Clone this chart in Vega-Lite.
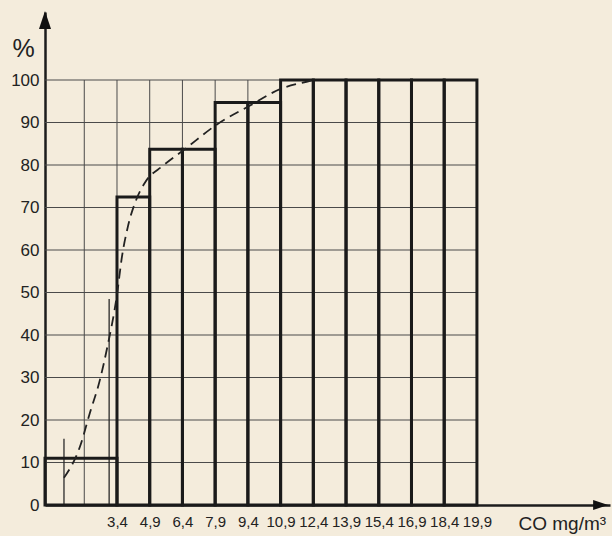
{
  "$schema": "https://vega.github.io/schema/vega-lite/v6.json",
  "width": 565,
  "height": 493,
  "autosize": {"type": "none"},
  "padding": {"left": 45, "top": 12, "right": 2, "bottom": 31},
  "background": "#f4ecdc",
  "config": {"view": {"stroke": null}, "font": "Liberation Sans"},
  "datasets": {
    "hgrid": [{"y": 10, "x0": 0.1, "x1": 19.9}, {"y": 20, "x0": 0.1, "x1": 19.9}, {"y": 30, "x0": 0.1, "x1": 19.9}, {"y": 40, "x0": 0.1, "x1": 19.9}, {"y": 50, "x0": 0.1, "x1": 19.9}, {"y": 60, "x0": 0.1, "x1": 19.9}, {"y": 70, "x0": 0.1, "x1": 19.9}, {"y": 80, "x0": 0.1, "x1": 19.9}, {"y": 90, "x0": 0.1, "x1": 19.9}, {"y": 100, "x0": 0.1, "x1": 19.9}],
    "vgrid": [{"x": 1.9, "y0": 0, "y1": 100}, {"x": 3.4, "y0": 0, "y1": 100}, {"x": 4.9, "y0": 0, "y1": 100}, {"x": 6.4, "y0": 0, "y1": 100}, {"x": 7.9, "y0": 0, "y1": 100}, {"x": 9.4, "y0": 0, "y1": 100}, {"x": 10.9, "y0": 0, "y1": 100}, {"x": 12.4, "y0": 0, "y1": 100}, {"x": 13.9, "y0": 0, "y1": 100}, {"x": 15.4, "y0": 0, "y1": 100}, {"x": 16.9, "y0": 0, "y1": 100}, {"x": 18.4, "y0": 0, "y1": 100}, {"x": 19.9, "y0": 0, "y1": 100}],
    "bars": [
      {"x": 0.1, "x2": 3.4, "b": 0, "v": 11},
      {"x": 3.4, "x2": 4.9, "b": 0, "v": 72.5},
      {"x": 4.9, "x2": 6.4, "b": 0, "v": 83.7},
      {"x": 6.4, "x2": 7.9, "b": 0, "v": 83.7},
      {"x": 7.9, "x2": 9.4, "b": 0, "v": 94.7},
      {"x": 9.4, "x2": 10.9, "b": 0, "v": 94.7},
      {"x": 10.9, "x2": 12.4, "b": 0, "v": 100},
      {"x": 12.4, "x2": 13.9, "b": 0, "v": 100},
      {"x": 13.9, "x2": 15.4, "b": 0, "v": 100},
      {"x": 15.4, "x2": 16.9, "b": 0, "v": 100},
      {"x": 16.9, "x2": 18.4, "b": 0, "v": 100},
      {"x": 18.4, "x2": 19.9, "b": 0, "v": 100}
    ],
    "marks": [{"x": 0.97, "y0": 0, "y1": 15.6}, {"x": 3.04, "y0": 0, "y1": 48.5}],
    "curve": [
      {"x": 0.97, "y": 6.4},
      {"x": 1.7, "y": 13.7},
      {"x": 2.16, "y": 21.7},
      {"x": 2.62, "y": 29.5},
      {"x": 2.95, "y": 37},
      {"x": 3.4, "y": 49.5},
      {"x": 3.63, "y": 58.5},
      {"x": 3.9, "y": 65.5},
      {"x": 4.32, "y": 72.3},
      {"x": 4.7, "y": 76},
      {"x": 5.5, "y": 79.8},
      {"x": 6.5, "y": 83.7},
      {"x": 8.0, "y": 89.6},
      {"x": 9.5, "y": 94},
      {"x": 10.9, "y": 97.9},
      {"x": 12.25, "y": 99.8},
      {"x": 12.4, "y": 100}
    ],
    "arrows": [
      {"x": 0.1, "y": 114.1, "dir": "up"},
      {"x": 25.57, "y": 0, "dir": "right"}
    ]
  },
  "layer": [
    {
      "data": {"name": "hgrid"},
      "mark": {"type": "rule", "color": "#4a4a4a", "strokeWidth": 1},
      "encoding": {
        "y": {"field": "y", "type": "quantitative", "scale": {"domain": [0, 116], "nice": false, "zero": false},
          "axis": {
            "values": [0, 10, 20, 30, 40, 50, 60, 70, 80, 90, 100],
            "grid": false, "ticks": false, "labelPadding": 6,
            "domainColor": "#1c1c1c", "domainWidth": 2.5,
            "labelFont": "Liberation Sans", "labelFontSize": 17, "labelColor": "#222",
            "title": "%", "titleAngle": 0, "titleX": -22, "titleY": 36, "titleAlign": "center", "titleBaseline": "middle",
            "titleFont": "Liberation Sans", "titleFontSize": 25, "titleFontWeight": "normal", "titleColor": "#222"
          }},
        "x": {"field": "x0", "type": "quantitative", "scale": {"domain": [0.1, 26], "nice": false, "zero": false},
          "axis": {
            "values": [3.4, 4.9, 6.4, 7.9, 9.4, 10.9, 12.4, 13.9, 15.4, 16.9, 18.4, 19.9],
            "labelExpr": "replace(format(datum.value, '.1f'), '.', ',')",
            "grid": false, "ticks": false, "labelPadding": 9, "labelOverlap": false,
            "domainColor": "#1c1c1c", "domainWidth": 2.5,
            "labelFont": "Liberation Sans", "labelFontSize": 15, "labelColor": "#222",
            "title": "CO mg/m³", "titleX": 473, "titleY": 18, "titleAlign": "left", "titleBaseline": "middle",
            "titleFont": "Liberation Sans", "titleFontSize": 19, "titleFontWeight": "normal", "titleColor": "#222"
          }},
        "x2": {"field": "x1"}
      }
    },
    {
      "data": {"name": "vgrid"},
      "mark": {"type": "rule", "color": "#4a4a4a", "strokeWidth": 1},
      "encoding": {
        "x": {"field": "x", "type": "quantitative"},
        "y": {"field": "y0", "type": "quantitative"},
        "y2": {"field": "y1"}
      }
    },
    {
      "data": {"name": "marks"},
      "mark": {"type": "rule", "color": "#2a2a2a", "strokeWidth": 1.3},
      "encoding": {
        "x": {"field": "x", "type": "quantitative"},
        "y": {"field": "y0", "type": "quantitative"},
        "y2": {"field": "y1"}
      }
    },
    {
      "data": {"name": "bars"},
      "mark": {"type": "rect", "fill": "transparent", "stroke": "#1a1a1a", "strokeWidth": 3, "strokeJoin": "miter"},
      "encoding": {
        "x": {"field": "x", "type": "quantitative"},
        "x2": {"field": "x2"},
        "y": {"field": "b", "type": "quantitative"},
        "y2": {"field": "v"}
      }
    },
    {
      "data": {"name": "curve"},
      "mark": {"type": "line", "color": "#222", "strokeWidth": 1.8, "strokeDash": [10, 6], "interpolate": "monotone"},
      "encoding": {
        "x": {"field": "x", "type": "quantitative"},
        "y": {"field": "y", "type": "quantitative"}
      }
    },
    {
      "data": {"name": "arrows"},
      "mark": {"type": "point", "filled": true, "color": "#111", "opacity": 1},
      "encoding": {
        "x": {"field": "x", "type": "quantitative"},
        "y": {"field": "y", "type": "quantitative"},
        "shape": {"field": "dir", "type": "nominal", "legend": null,
          "scale": {"domain": ["up", "right"], "range": ["M0,-1L0.67,1L-0.67,1Z", "M1,0L-1,-0.67L-1,0.67Z"]}},
        "size": {"field": "dir", "type": "nominal", "legend": null,
          "scale": {"domain": ["up", "right"], "range": [324, 225]}}
      }
    }
  ]
}
